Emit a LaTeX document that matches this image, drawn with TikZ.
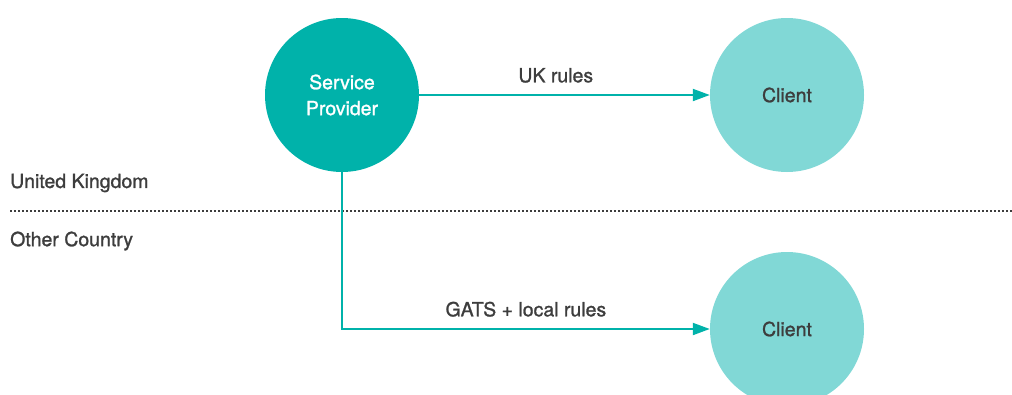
\documentclass[tikz,border=0pt]{standalone}
\usepackage{fontspec}
\setmainfont{TeX Gyre Heros}[BoldFont={TeX Gyre Heros}, BoldFeatures={FakeBold=1.2}]
\usetikzlibrary{arrows.meta,positioning}
\definecolor{provider}{HTML}{00B2AA}
\definecolor{client}{HTML}{81D8D6}
\definecolor{txt}{HTML}{3D3D3D}
\tikzset{
	party/.style={circle, minimum size=154pt, inner sep=0pt, font=\fontsize{19.5}{26}\selectfont\bfseries, align=center},
	flow/.style={provider, line width=2pt, -{Triangle[length=17pt,width=12pt]}},
	tag/.style={txt, font=\fontsize{19.5}{24}\selectfont\bfseries}
}
\begin{document}
\begin{tikzpicture}[x=1pt, y=-1pt]
	\useasboundingbox (0,0) rectangle (1012,394);
	% parties
	\node[party, fill=provider, text=white] (sp) at (342,95) {Service\\Provider};
	\node[party, fill=client, text=txt] (c1) at (787,95) {Client};
	\node[party, fill=client, text=txt] (c2) at (787,329) {Client};
	% border between the two countries
	\coordinate (bl) at (10,211);
	\coordinate (br) at (1012,211);
	\draw[txt, line width=1.6pt, dash pattern=on 1.6pt off 2.4pt] (bl) -- (br);
	\node[tag, anchor=west, inner xsep=0pt] (uk) at (10,183) {United Kingdom};
	\node[tag, anchor=west, inner xsep=0pt] (oc) at (10,241) {Other Country};
	% flows
	\draw[flow] (sp) -- node[tag, pos=0.47, above=8pt] (ukr) {UK rules} (c1);
	\draw[flow] (sp.south) |- node[tag, pos=0.75, above=8pt] (gats) {GATS + local rules} (c2.west);
\end{tikzpicture}
\end{document}
